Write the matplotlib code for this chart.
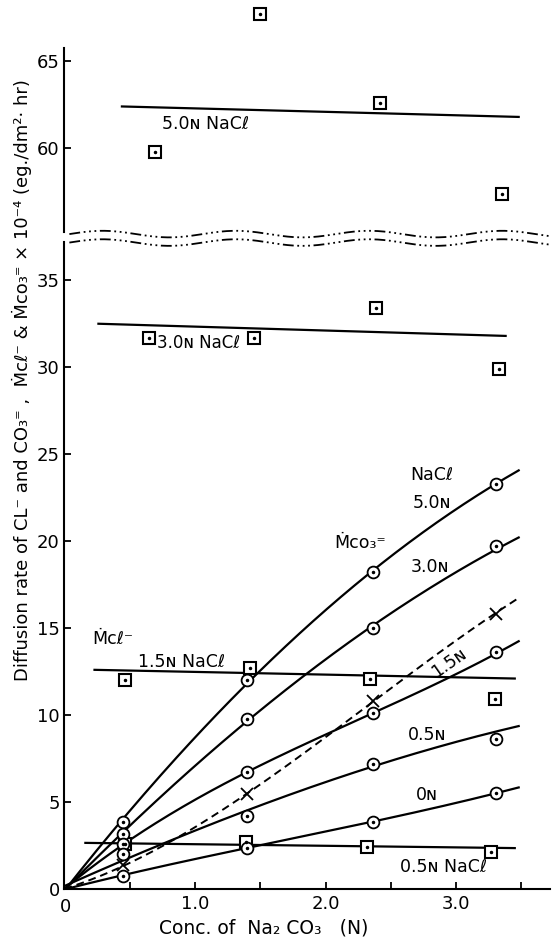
import numpy as np
import matplotlib
matplotlib.use("Agg")
import matplotlib.pyplot as plt
from matplotlib.lines import Line2D

plt.rcParams['font.family'] = ['DejaVu Sans']

# --- M_Cl- (squares) and fitted NaCl lines ---
sq5_x = [0.69, 1.50, 2.42, 3.35]
sq5_y = [59.8, 67.7, 62.6, 57.4]
line5_x = [0.44, 3.48]
line5_y = [62.4, 61.8]

sq3_x = [0.65, 1.45, 2.39, 3.33]
sq3_y = [31.7, 31.7, 33.4, 29.9]
line3_x = [0.26, 3.38]
line3_y = [32.5, 31.8]

sq15_x = [0.46, 1.42, 2.34, 3.30]
sq15_y = [12.0, 12.7, 12.1, 10.9]
line15_x = [0.23, 3.45]
line15_y = [12.6, 12.1]

sq05_x = [0.46, 1.39, 2.32, 3.27]
sq05_y = [2.6, 2.7, 2.4, 2.1]
line05_x = [0.16, 3.45]
line05_y = [2.65, 2.35]

# --- M_CO3= (circles) ---
conc = [0.45, 1.40, 2.36, 3.31]
co3_5n = [3.85, 12.0, 18.2, 23.3]
co3_3n = [3.15, 9.8, 15.0, 19.7]
co3_15n = [2.6, 6.7, 10.1, 13.6]
co3_05n = [2.0, 4.2, 7.2, 8.6]
co3_0n = [0.75, 2.35, 3.85, 5.5]
cross_y = [1.35, 5.45, 10.8, 15.8]

# curve traces (x = 0, markers, end)
curve_x = [0.0, 0.45, 1.40, 2.36, 3.31, 3.48]
curve_5n = [0.0, 3.85, 12.0, 18.2, 23.3, 24.1]
curve_3n = [0.0, 3.15, 9.8, 15.0, 19.7, 20.1]
curve_15n = [0.0, 2.6, 6.7, 10.1, 13.6, 14.2]
curve_05n = [0.0, 2.0, 4.2, 7.2, 9.1, 9.3]
curve_0n = [0.0, 0.75, 2.4, 3.85, 5.5, 5.85]
curve_cross = [0.0, 1.35, 5.45, 10.8, 15.8, 16.8]

x_ticks = [0.5, 1.0, 1.5, 2.0, 2.5, 3.0, 3.5]
x_labels = ["", "1.0", "", "2.0", "", "3.0", ""]

fig = plt.figure(figsize=(5.55, 9.42), dpi=100)
ax_lo = fig.add_axes([0.1162, 0.0563, 0.8748, 0.6868])
ax_hi = fig.add_axes([0.1162, 0.7537, 0.8748, 0.1953])

for ax in (ax_lo, ax_hi):
    ax.set_xlim(0, 3.72)
    ax.spines['top'].set_visible(False)
    ax.spines['right'].set_visible(False)
    ax.spines['left'].set_linewidth(1.5)
    ax.spines['bottom'].set_linewidth(1.5)
    ax.tick_params(direction='in', length=5, width=1.3, labelsize=13)
    ax.patch.set_alpha(0)

ax_lo.set_ylim(0, 37.2)
ax_hi.set_ylim(55.2, 65.75)
ax_hi.spines['bottom'].set_visible(False)
ax_hi.set_xticks([])
ax_hi.set_yticks([60, 65])
ax_lo.set_yticks([0, 5, 10, 15, 20, 25, 30, 35])
ax_lo.set_xticks(x_ticks)
ax_lo.set_xticklabels(x_labels)
ax_lo.tick_params(axis='x', pad=4)

sq_kw = dict(marker='s', ms=8, mfc='white', mec='black', mew=1.5, ls='none', clip_on=False, zorder=4)
dot_kw = dict(marker='.', ms=3, color='black', ls='none', clip_on=False, zorder=5)
circ_kw = dict(marker='o', ms=8.5, mfc='white', mec='black', mew=1.3, ls='none', clip_on=False, zorder=4)


def smooth(ax, xs, ys, **kw):
    coef = np.polyfit(xs, ys, 3)
    xx = np.linspace(min(xs), max(xs), 200)
    ax.plot(xx, np.polyval(coef, xx), color='black', **kw)


# squares and NaCl lines
ax_hi.plot(line5_x, line5_y, color='black', lw=1.6)
ax_hi.plot(sq5_x, sq5_y, **sq_kw)
ax_hi.plot(sq5_x, sq5_y, **dot_kw)
for lx, ly, sx, sy in [(line3_x, line3_y, sq3_x, sq3_y),
                       (line15_x, line15_y, sq15_x, sq15_y),
                       (line05_x, line05_y, sq05_x, sq05_y)]:
    ax_lo.plot(lx, ly, color='black', lw=1.6)
    ax_lo.plot(sx, sy, **sq_kw)
    ax_lo.plot(sx, sy, **dot_kw)

# carbonate curves
for cy, my in [(curve_5n, co3_5n), (curve_3n, co3_3n), (curve_15n, co3_15n),
               (curve_05n, co3_05n), (curve_0n, co3_0n)]:
    smooth(ax_lo, curve_x, cy, lw=1.6)
    ax_lo.plot(conc, my, **circ_kw)
    ax_lo.plot(conc, my, **dot_kw)

smooth(ax_lo, curve_x, curve_cross, lw=1.4, ls=(0, (4, 2.5)))
ax_lo.plot(conc, cross_y, marker='x', ms=8, mew=1.3, color='black', ls='none', zorder=5)

# annotations
fs = 12.5
ax_hi.text(0.75, 61.4, "5.0ɴ NaCℓ", fontsize=fs, va='center')
ax_lo.text(0.71, 31.4, "3.0ɴ NaCℓ", fontsize=12, va='center')
ax_lo.text(0.56, 13.05, "1.5ɴ NaCℓ", fontsize=fs, va='center')
ax_lo.text(2.57, 1.25, "0.5ɴ NaCℓ", fontsize=fs, va='center')
ax_lo.text(0.21, 14.4, "Ṁcℓ⁻", fontsize=fs, va='center')
ax_lo.text(2.07, 19.9, "Ṁco₃⁼", fontsize=fs, va='center')
ax_lo.text(2.65, 23.8, "NaCℓ", fontsize=fs, va='center')
ax_lo.text(2.67, 22.2, "5.0ɴ", fontsize=fs, va='center')
ax_lo.text(2.65, 18.5, "3.0ɴ", fontsize=fs, va='center')
ax_lo.text(2.95, 13.0, "1.5ɴ", fontsize=fs, va='center', ha='center', rotation=35)
ax_lo.text(2.63, 8.85, "0.5ɴ", fontsize=fs, va='center')
ax_lo.text(2.69, 5.4, "0ɴ", fontsize=fs, va='center')

ax_lo.set_xlabel("Conc. of  Na₂ CO₃   (N)", fontsize=13.5, labelpad=0)
ax_lo.xaxis.set_label_coords(0.41, -0.045)
fig.text(0.04, 0.597,
         "Diffusion rate of CL⁻ and CO₃⁼ ,  Ṁcℓ⁻ & Ṁco₃⁼ × 10⁻⁴ (eg./dm²· hr)",
         rotation=90, fontsize=13, ha='center', va='center')
fig.text(0.118, 0.037, "0", fontsize=13, ha='center', va='center')

# wavy axis break
wx = np.linspace(0.125, 0.99, 300)
for yc in (0.7515, 0.7425):
    wy = yc + 0.0035 * np.sin((wx - 0.125) * 2 * np.pi / 0.24)
    fig.add_artist(Line2D(wx, wy, color='black', lw=1.3,
                          ls=(0, (6, 2, 1, 2, 1, 2, 1, 2))))

fig.savefig("out.png", dpi=100)
